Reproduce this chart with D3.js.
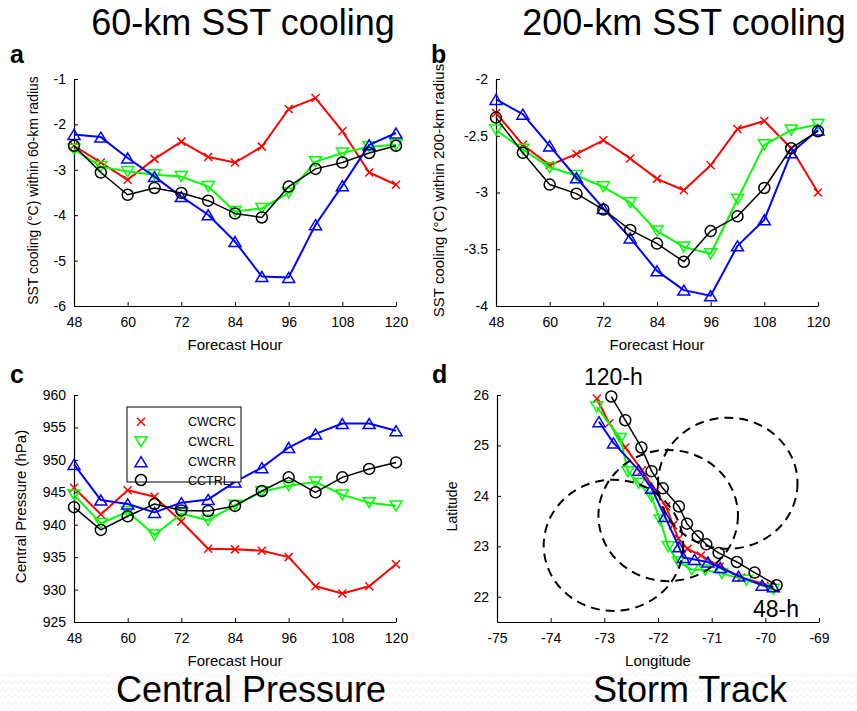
<!DOCTYPE html>
<html>
<head>
<meta charset="utf-8">
<script src="https://cdn.jsdelivr.net/npm/d3@7"></script>
<style>
  body { margin: 0; background: #fff; }
  svg { display: block; font-family: "Liberation Sans", Arial, sans-serif; }
</style>
</head>
<body>
<svg id="chart" width="857" height="711"></svg>
<script>
// data
const hours = [48, 54, 60, 66, 72, 78, 84, 90, 96, 102, 108, 114, 120];
const hourTicks = [48, 60, 72, 84, 96, 108, 120];

const seriesNames = ["CWCRC", "CWCRL", "CWCRR", "CCTRL"];
const seriesColors = ["#ff0000", "#00ff00", "#0000ff", "#000000"];
const seriesMarkers = ["x", "down", "up", "circle"];

const sst60CWCRC = [-2.47, -2.84, -3.22, -2.76, -2.38, -2.72, -2.84, -2.49, -1.66, -1.42, -2.15, -3.06, -3.33];
const sst60CWCRL = [-2.55, -2.93, -3.04, -3.11, -3.15, -3.37, -3.92, -3.85, -3.51, -2.82, -2.63, -2.49, -2.45];
const sst60CWCRR = [-2.22, -2.28, -2.74, -3.15, -3.59, -3.99, -4.58, -5.35, -5.37, -4.21, -3.35, -2.45, -2.19];
const sst60CCTRL = [-2.47, -3.06, -3.55, -3.40, -3.51, -3.68, -3.96, -4.05, -3.37, -2.98, -2.84, -2.63, -2.47];
const sst60Ticks = [-6, -5, -4, -3, -2, -1];

const sst200CWCRC = [-2.30, -2.58, -2.76, -2.66, -2.54, -2.70, -2.88, -2.98, -2.76, -2.44, -2.37, -2.61, -3.00];
const sst200CWCRL = [-2.45, -2.62, -2.78, -2.85, -2.95, -3.09, -3.34, -3.48, -3.54, -3.06, -2.58, -2.45, -2.40];
const sst200CWCRR = [-2.18, -2.31, -2.59, -2.87, -3.14, -3.40, -3.69, -3.86, -3.91, -3.47, -3.24, -2.65, -2.45];
const sst200CCTRL = [-2.34, -2.65, -2.93, -3.01, -3.15, -3.33, -3.45, -3.61, -3.34, -3.21, -2.96, -2.61, -2.46];
const sst200Ticks = [-4, -3.5, -3, -2.5, -2];

const presCWCRC = [945.7, 941.6, 945.3, 944.3, 940.5, 936.3, 936.2, 936.0, 935.0, 930.5, 929.4, 930.5, 933.9];
const presCWCRL = [944.6, 940.2, 942.0, 938.4, 941.7, 940.7, 943.0, 945.1, 946.0, 946.6, 944.6, 943.4, 942.9];
const presCWCRR = [949.3, 943.8, 943.2, 941.9, 943.4, 943.9, 946.6, 948.8, 951.9, 954.0, 955.6, 955.6, 954.5];
const presCCTRL = [942.7, 939.2, 941.3, 943.2, 942.2, 942.1, 942.9, 945.2, 947.3, 945.0, 947.3, 948.6, 949.6];
const presTicks = [925, 930, 935, 940, 945, 950, 955, 960];

// storm track, 48 h -> 120 h
const lonCWCRC = [-69.90, -70.45, -70.85, -71.20, -71.45, -71.62, -71.72, -71.85, -72.05, -72.30, -72.61, -72.91, -73.14];
const latCWCRC = [22.22, 22.38, 22.60, 22.82, 22.95, 23.15, 23.42, 23.79, 24.10, 24.51, 24.96, 25.44, 25.93];
const lonCWCRL = [-69.85, -70.35, -70.81, -71.12, -71.37, -71.62, -71.81, -71.96, -72.12, -72.36, -72.56, -72.70, -73.14];
const latCWCRL = [22.15, 22.33, 22.46, 22.53, 22.54, 22.69, 22.99, 23.52, 23.98, 24.25, 24.48, 25.14, 25.76];
const lonCWCRR = [-69.85, -70.06, -70.50, -70.84, -71.07, -71.32, -71.53, -71.61, -71.87, -72.12, -72.36, -72.83, -73.10];
const latCWCRR = [22.20, 22.23, 22.41, 22.58, 22.69, 22.74, 22.78, 22.99, 23.59, 24.15, 24.51, 25.05, 25.47];
const lonCCTRL = [-69.79, -70.20, -70.53, -70.87, -71.10, -71.26, -71.46, -71.61, -71.91, -72.12, -72.31, -72.61, -72.87];
const latCCTRL = [22.23, 22.48, 22.69, 22.87, 23.04, 23.20, 23.45, 23.79, 24.15, 24.49, 24.96, 25.50, 25.97];
const lonTicks = [-75, -74, -73, -72, -71, -70, -69];
const latTicks = [22, 23, 24, 25, 26];

// dashed radius circles (center lon, center lat), radius in degrees
const circleLon = [-72.83, -71.81, -70.70];
const circleLat = [23.02, 23.61, 24.25];
const circleRadius = 1.3;


const svg = d3.select("#chart");
const font = '"Liberation Sans", Arial, sans-serif';

// faint zig-zag background of the slide footer
const defs = svg.append("defs");
defs.append("pattern")
  .attr("id", "zig")
  .attr("patternUnits", "userSpaceOnUse")
  .attr("width", 12)
  .attr("height", 7)
  .append("path")
  .attr("d", "M0,5 L3,1.5 L6,5 L9,1.5 L12,5")
  .attr("fill", "none")
  .attr("stroke", "#efefef")
  .attr("stroke-width", 1);
svg.append("rect")
  .attr("x", 0).attr("y", 671).attr("width", 857).attr("height", 40)
  .attr("fill", "url(#zig)");


function markerPath(kind) {
  if (kind === "x") return "M-4,-4L4,4M-4,4L4,-4";
  if (kind === "up") return "M0,-5L6,5L-6,5Z";
  if (kind === "down") return "M0,5L6,-5L-6,-5Z";
  return null;
}

function drawMarker(g, kind, color, x, y) {
  if (kind === "circle") {
    g.append("circle")
      .attr("cx", x).attr("cy", y).attr("r", 5.5)
      .attr("fill", "none").attr("stroke", color).attr("stroke-width", 1.5);
  } else {
    g.append("path")
      .attr("transform", `translate(${x},${y})`)
      .attr("d", markerPath(kind))
      .attr("fill", "none").attr("stroke", color).attr("stroke-width", 1.5);
  }
}


const panel = function () {

  let box;
  let xDomain;
  let yDomain;
  let xTicks;
  let yTicks;
  let xLabel;
  let yLabel;
  let yLabelX;
  let yLabelSize = 14;
  let series;
  let xScale;
  let yScale;

  const my = (selection) => {

    xScale = d3.scaleLinear().domain(xDomain).range([box.left, box.right]);
    yScale = d3.scaleLinear().domain(yDomain).range([box.bottom, box.top]);

    const fmt = (d) => String(d);

    const gx = selection.append("g")
      .attr("transform", `translate(0, ${box.bottom})`)
      .call(d3.axisBottom(xScale).tickValues(xTicks).tickFormat(fmt)
        .tickSizeInner(-4).tickSizeOuter(0).tickPadding(11));

    const gy = selection.append("g")
      .attr("transform", `translate(${box.left}, 0)`)
      .call(d3.axisLeft(yScale).tickValues(yTicks).tickFormat(fmt)
        .tickSizeInner(-4).tickSizeOuter(0).tickPadding(8));

    [gx, gy].forEach((g) => {
      g.attr("font-family", font).attr("font-size", 14);
      g.select(".domain").attr("stroke", "#000").attr("stroke-width", 1.2);
      g.selectAll(".tick line").attr("stroke", "#000");
      g.selectAll(".tick text").attr("fill", "#000");
    });

    selection.append("text")
      .attr("x", (box.left + box.right) / 2)
      .attr("y", box.bottom + 44)
      .attr("text-anchor", "middle")
      .attr("font-size", 15)
      .text(xLabel);

    selection.append("text")
      .attr("transform", `translate(${yLabelX}, ${(box.top + box.bottom) / 2 - 2}) rotate(-90)`)
      .attr("text-anchor", "middle")
      .attr("font-size", yLabelSize)
      .text(yLabel);

    const line = d3.line().x((d) => xScale(d[0])).y((d) => yScale(d[1]));

    series.forEach((s) => {
      const pts = s.xs.map((x, i) => [x, s.ys[i]]);
      const g = selection.append("g");
      g.append("path")
        .attr("d", line(pts))
        .attr("fill", "none")
        .attr("stroke", s.color)
        .attr("stroke-width", s.color === "#000000" ? 1.5 : 2)
        .attr("stroke-linejoin", "round");
      pts.forEach((p) => drawMarker(g, s.marker, s.color, xScale(p[0]), yScale(p[1])));
    });
  }

  //accessors

  my.box = function(_) {
    return arguments.length ? (box = _, my) : box
  }
  my.xDomain = function(_) {
    return arguments.length ? (xDomain = _, my) : xDomain
  }
  my.yDomain = function(_) {
    return arguments.length ? (yDomain = _, my) : yDomain
  }
  my.xTicks = function(_) {
    return arguments.length ? (xTicks = _, my) : xTicks
  }
  my.yTicks = function(_) {
    return arguments.length ? (yTicks = _, my) : yTicks
  }
  my.xLabel = function(_) {
    return arguments.length ? (xLabel = _, my) : xLabel
  }
  my.yLabel = function(_) {
    return arguments.length ? (yLabel = _, my) : yLabel
  }
  my.yLabelX = function(_) {
    return arguments.length ? (yLabelX = _, my) : yLabelX
  }
  my.yLabelSize = function(_) {
    return arguments.length ? (yLabelSize = _, my) : yLabelSize
  }
  my.series = function(_) {
    return arguments.length ? (series = _, my) : series
  }
  my.x = () => xScale;
  my.y = () => yScale;

  return my;
}


const makeSeries = (xsList, ysList) => seriesNames.map((name, i) => ({
  name: name,
  color: seriesColors[i],
  marker: seriesMarkers[i],
  xs: xsList[i],
  ys: ysList[i]
}));

const hoursList = seriesNames.map(() => hours);

// a
const gA = svg.append("g");
panel()
  .box({ left: 74, right: 396, top: 79, bottom: 306 })
  .xDomain([48, 120]).yDomain([-6, -1])
  .xTicks(hourTicks).yTicks(sst60Ticks)
  .xLabel("Forecast Hour")
  .yLabel("SST cooling (°C) within 60-km radius")
  .yLabelX(38).yLabelSize(14)
  .series(makeSeries(hoursList, [sst60CWCRC, sst60CWCRL, sst60CWCRR, sst60CCTRL]))(gA);

// b
const gB = svg.append("g");
panel()
  .box({ left: 496, right: 818, top: 79, bottom: 306 })
  .xDomain([48, 120]).yDomain([-4, -2])
  .xTicks(hourTicks).yTicks(sst200Ticks)
  .xLabel("Forecast Hour")
  .yLabel("SST cooling (°C) within 200-km radius")
  .yLabelX(444).yLabelSize(15)
  .series(makeSeries(hoursList, [sst200CWCRC, sst200CWCRL, sst200CWCRR, sst200CCTRL]))(gB);

// c
const gC = svg.append("g");
panel()
  .box({ left: 74, right: 396, top: 395, bottom: 622 })
  .xDomain([48, 120]).yDomain([925, 960])
  .xTicks(hourTicks).yTicks(presTicks)
  .xLabel("Forecast Hour")
  .yLabel("Central Pressure (hPa)")
  .yLabelX(26).yLabelSize(15)
  .series(makeSeries(hoursList, [presCWCRC, presCWCRL, presCWCRR, presCCTRL]))(gC);

// legend for c
const legend = gC.append("g");
legend.append("rect")
  .attr("x", 127).attr("y", 407).attr("width", 114).attr("height", 75)
  .attr("fill", "#fff").attr("stroke", "#000").attr("stroke-width", 1);
seriesNames.forEach((name, i) => {
  const ly = [421.7, 441.7, 461.7, 480][i];
  drawMarker(legend, seriesMarkers[i], seriesColors[i], 141, ly);
  legend.append("text")
    .attr("x", 188).attr("y", ly + 4.5)
    .attr("font-size", 12.5)
    .text(name);
});

// d
const gD = svg.append("g");
const trackPanel = panel()
  .box({ left: 497, right: 819, top: 395, bottom: 622 })
  .xDomain([-75, -69]).yDomain([21.5, 26])
  .xTicks(lonTicks).yTicks(latTicks)
  .xLabel("Longitude")
  .yLabel("Latitude")
  .yLabelX(457).yLabelSize(14)
  .series(makeSeries(
    [lonCWCRC, lonCWCRL, lonCWCRR, lonCCTRL],
    [latCWCRC, latCWCRL, latCWCRR, latCCTRL]));
trackPanel(gD);

const xs = trackPanel.x();
const ys = trackPanel.y();
circleLon.forEach((lon, i) => {
  gD.append("ellipse")
    .attr("cx", xs(lon))
    .attr("cy", ys(circleLat[i]))
    .attr("rx", xs(lon + circleRadius) - xs(lon))
    .attr("ry", ys(circleLat[i]) - ys(circleLat[i] + circleRadius))
    .attr("fill", "none")
    .attr("stroke", "#000")
    .attr("stroke-width", 2)
    .attr("stroke-dasharray", "9,6");
});

gD.append("text").attr("x", 584).attr("y", 385).attr("font-size", 23).text("120-h");
gD.append("text").attr("x", 753).attr("y", 617).attr("font-size", 23).text("48-h");

// panel letters
[["a", 10, 63], ["b", 431, 63], ["c", 10, 383], ["d", 432, 383]].forEach((d) => {
  svg.append("text")
    .attr("x", d[1]).attr("y", d[2])
    .attr("font-size", 25).attr("font-weight", "bold")
    .text(d[0]);
});

// slide titles
[["60-km SST cooling", 243, 35, 36], ["200-km SST cooling", 684, 35, 36],
 ["Central Pressure", 251, 702, 36], ["Storm Track", 690, 702, 36]].forEach((d) => {
  svg.append("text")
    .attr("x", d[1]).attr("y", d[2])
    .attr("text-anchor", "middle")
    .attr("font-size", d[3])
    .text(d[0]);
});

svg.selectAll("text").attr("font-family", font);
</script>
</body>
</html>
